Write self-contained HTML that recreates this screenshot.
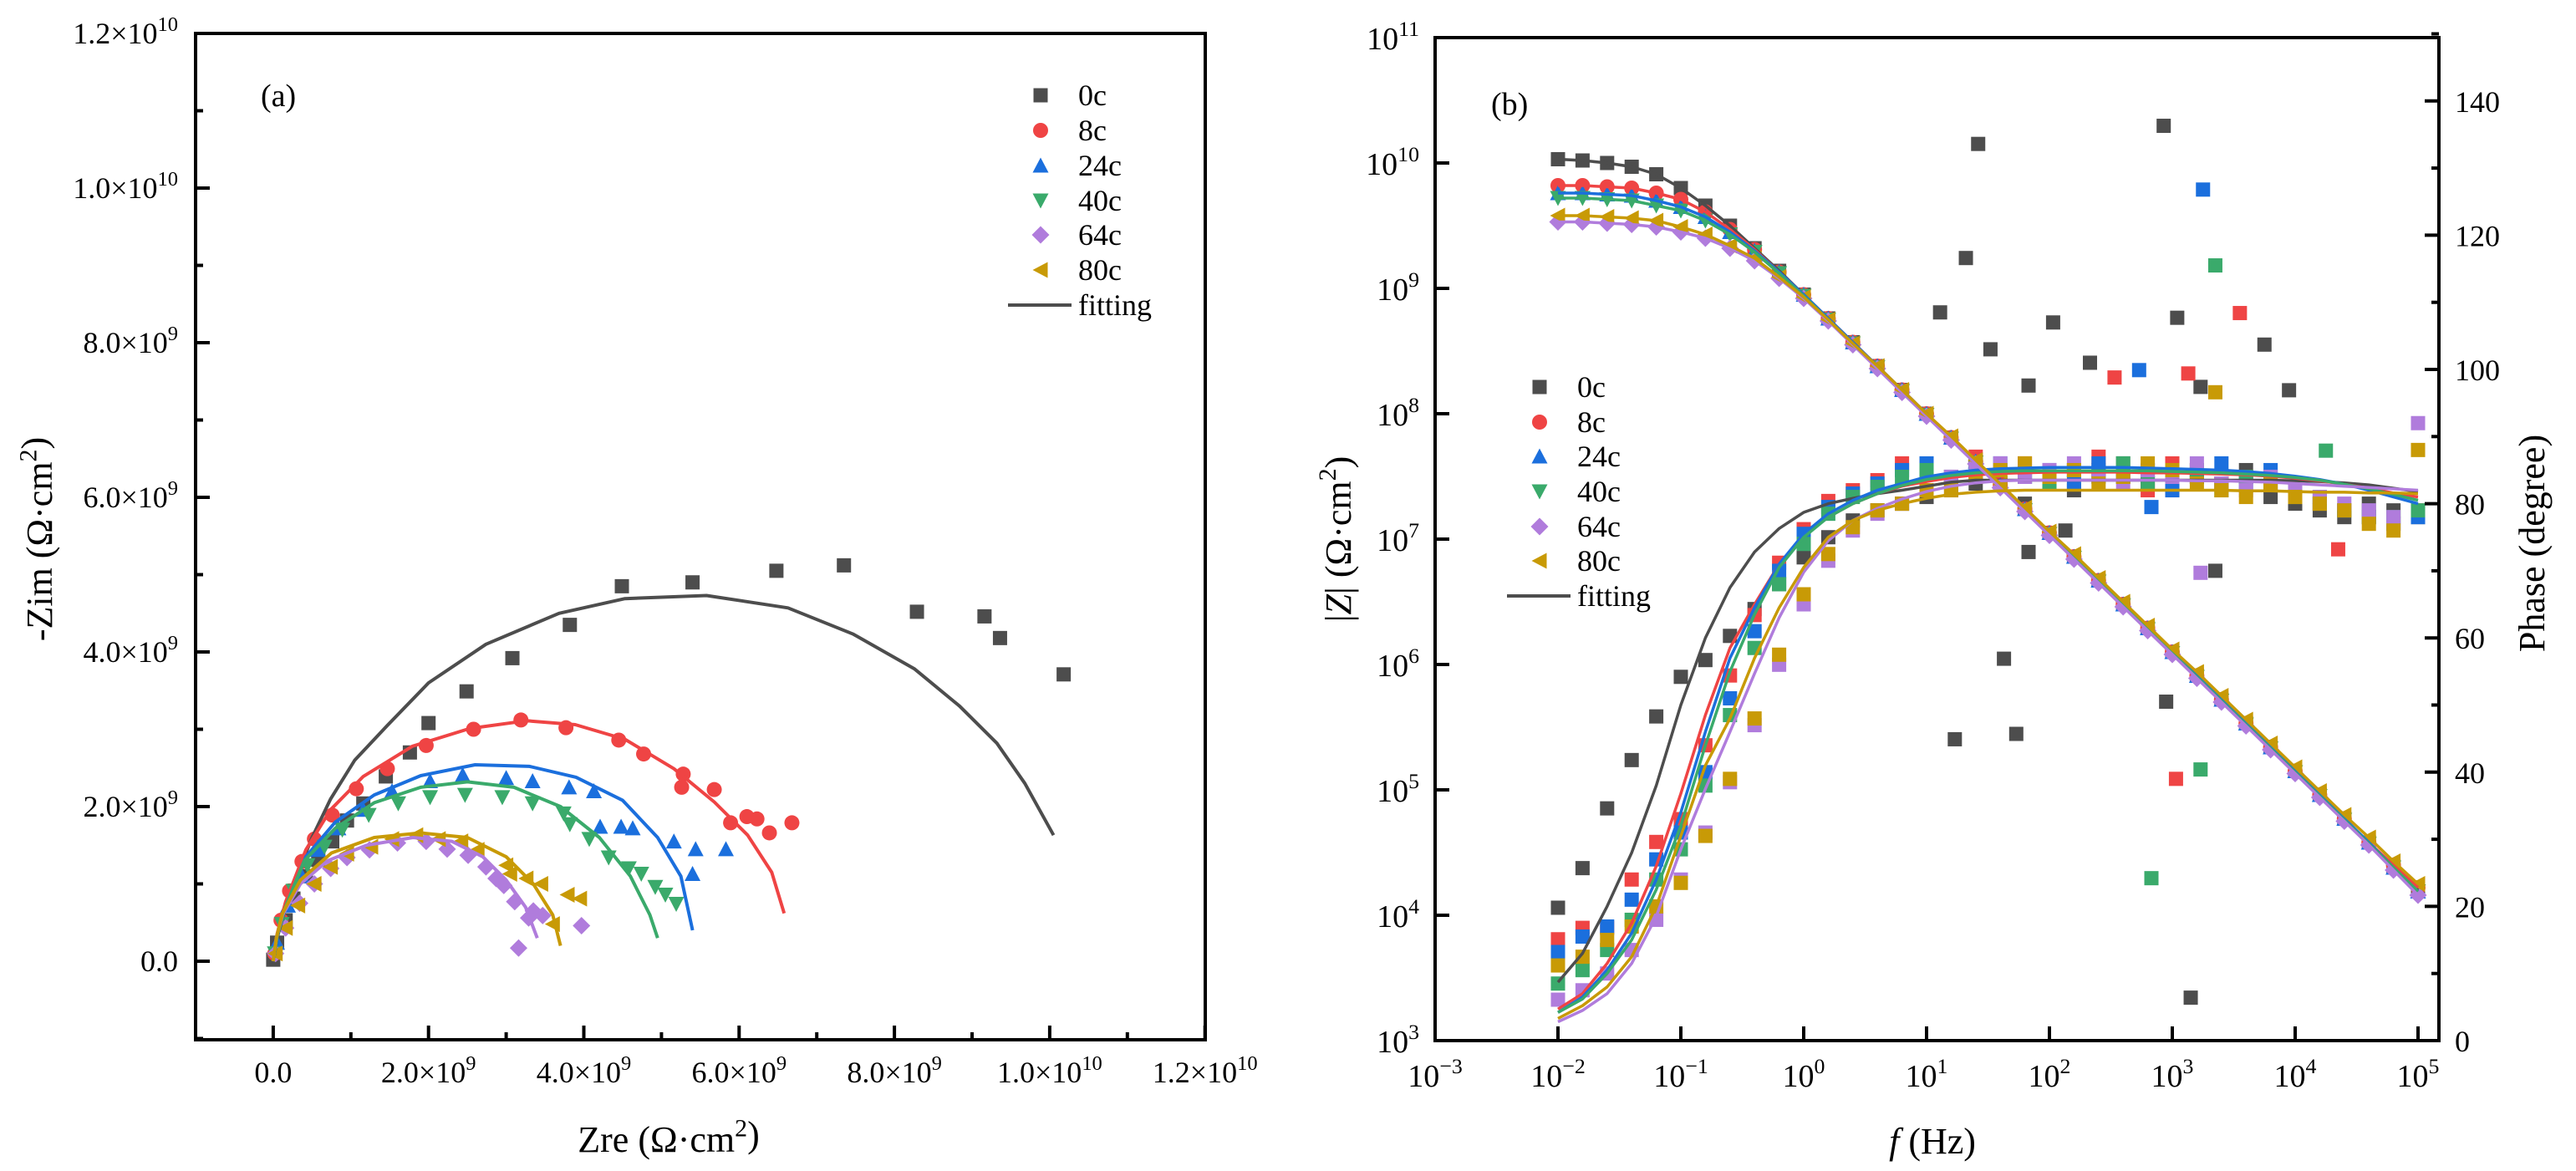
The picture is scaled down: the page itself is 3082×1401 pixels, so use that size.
<!DOCTYPE html>
<html><head><meta charset="utf-8"><style>
html,body{margin:0;padding:0;background:#fff;}
svg{display:block;font-family:"Liberation Serif",serif;}
text{font-family:"Liberation Serif",serif;}
</style></head><body>
<svg id="chart" xmlns="http://www.w3.org/2000/svg" width="3082" height="1401" viewBox="0 0 3082 1401" font-family="Liberation Serif, serif">
<defs>
<clipPath id="clipA"><rect x="234" y="40" width="1208" height="1204"/></clipPath>
<clipPath id="clipB"><rect x="1717" y="45" width="1201" height="1200"/></clipPath>
</defs>
</svg>
<script>
// ---------- Panel (a) Nyquist data (units of 1e9 Ω·cm²) ----------
const nyqSeries = ["0c","8c","24c","40c","64c","80c"];
const colors = ["#4d4d4d","#ef4444","#1b6fdd","#3aaa6b","#b07cdc","#c89a06"];
const zre0 = [4.49,5.4,6.48,7.35,8.29,9.16,9.36,10.18,3.82,3.08,2.49,2.0,1.76,1.45,1.16,0.95,0.76,0.58,0.42,0.26,0.16,0.05,0];
const zim0 = [4.85,4.9,5.05,5.12,4.52,4.46,4.18,3.71,4.35,3.92,3.49,3.08,2.7,2.39,2.04,1.82,1.55,1.31,1.1,0.81,0.53,0.24,0.02];
const zre8 = [6.68,6.39,6.23,6.1,5.89,5.68,5.26,5.28,4.77,4.45,3.77,3.19,2.58,1.97,1.47,1.07,0.76,0.53,0.37,0.21,0.1,0.02];
const zim8 = [1.79,1.66,1.84,1.87,1.79,2.22,2.25,2.42,2.68,2.86,3.02,3.12,3.0,2.79,2.49,2.23,1.89,1.58,1.29,0.91,0.53,0.1];
const zre24 = [5.83,5.44,5.4,5.16,4.63,4.48,4.21,4.13,3.81,3.34,3.0,2.44,2.02,1.53,1.16,0.84,0.58,0.37,0.19,0.05];
const zim24 = [1.45,1.45,1.13,1.55,1.72,1.74,1.74,2.2,2.25,2.33,2.37,2.41,2.33,2.2,1.96,1.72,1.44,1.1,0.72,0.24];
const zre40 = [5.19,5.05,4.92,4.74,4.58,4.32,4.07,3.82,3.74,3.34,2.95,2.47,2.02,1.61,1.23,0.89,0.66,0.44,0.26,0.11,0.02];
const zim40 = [0.74,0.86,0.96,1.13,1.2,1.34,1.58,1.77,1.91,2.04,2.12,2.15,2.12,2.04,1.89,1.7,1.48,1.24,0.91,0.48,0.1];
const zre64 = [3.16,3.97,3.47,3.35,3.29,3.11,2.97,2.87,2.74,2.51,2.24,1.97,1.6,1.24,0.95,0.74,0.53,0.34,0.16,0.03];
const zim64 = [0.17,0.46,0.59,0.65,0.56,0.77,0.98,1.07,1.22,1.37,1.45,1.55,1.53,1.44,1.34,1.2,1.0,0.75,0.43,0.1];
const zre80 = [3.95,3.79,3.6,3.45,3.26,3.05,3.0,2.63,2.42,2.13,1.84,1.53,1.26,0.95,0.74,0.53,0.32,0.16,0.03];
const zim80 = [0.81,0.86,0.48,1.0,1.07,1.13,1.24,1.44,1.55,1.58,1.63,1.58,1.48,1.39,1.22,1.0,0.72,0.43,0.1];
const fitRe0 = [0,0.05,0.16,0.3,0.5,0.74,1.05,1.47,2,2.74,3.68,4.53,5.58,6.63,7.47,8.26,8.84,9.32,9.68,10.05];
const fitIm0 = [0,0.3,0.7,1.1,1.6,2.1,2.6,3.05,3.6,4.1,4.5,4.69,4.73,4.57,4.23,3.78,3.3,2.82,2.3,1.63];
const fitRe8 = [0,0.05,0.16,0.42,0.74,1.16,1.79,2.53,3.26,3.89,4.53,5.16,5.68,6.11,6.42,6.58];
const fitIm8 = [0,0.35,0.77,1.44,1.96,2.39,2.78,3.01,3.11,3.06,2.87,2.49,2.06,1.63,1.15,0.62];
const fitRe24 = [0,0.05,0.16,0.42,0.8,1.3,1.9,2.6,3.3,3.9,4.5,4.95,5.25,5.4];
const fitIm24 = [0,0.33,0.7,1.35,1.8,2.15,2.4,2.54,2.52,2.38,2.08,1.6,1.1,0.4];
const fitRe40 = [0,0.05,0.15,0.4,0.8,1.3,1.9,2.5,3.1,3.7,4.2,4.6,4.85,4.95];
const fitIm40 = [0,0.32,0.68,1.3,1.72,2.05,2.25,2.32,2.25,2.0,1.6,1.1,0.6,0.3];
const fitRe64 = [0,0.04,0.12,0.35,0.7,1.2,1.8,2.3,2.7,3.0,3.25,3.4];
const fitIm64 = [0,0.3,0.6,1.0,1.3,1.5,1.6,1.55,1.35,1.05,0.7,0.3];
const fitRe80 = [0,0.04,0.12,0.35,0.75,1.3,1.9,2.5,3.0,3.35,3.6,3.7];
const fitIm80 = [0,0.3,0.62,1.05,1.4,1.6,1.66,1.6,1.35,1.0,0.6,0.2];
const nyqXTicks = [0,2,4,6,8,10,12];
const nyqYTicks = [0,2,4,6,8,10,12];
const nyqXTickLabels = ["0.0","2.0×10|9","4.0×10|9","6.0×10|9","8.0×10|9","1.0×10|10","1.2×10|10"];
const nyqYTickLabels = ["0.0","2.0×10|9","4.0×10|9","6.0×10|9","8.0×10|9","1.0×10|10","1.2×10|10"];

// ---------- Panel (b) Bode data ----------
const logF = [-2,-1.8,-1.6,-1.4,-1.2,-1,-0.8,-0.6,-0.4,-0.2,0,0.2,0.4,0.6,0.8,1,1.2,1.4,1.6,1.8,2,2.2,2.4,2.6,2.8,3,3.2,3.4,3.6,3.8,4,4.2,4.4,4.6,4.8,5];
const logZ0 = [10.03,10.02,10.0,9.97,9.91,9.8,9.66,9.5,9.32,9.14,8.95,8.76,8.57,8.38,8.19,8.0,7.81,7.62,7.43,7.24,7.05,6.86,6.67,6.48,6.29,6.1,5.91,5.72,5.53,5.34,5.15,4.96,4.77,4.58,4.39,4.2];
const logZ8 = [9.82,9.82,9.81,9.8,9.76,9.71,9.61,9.47,9.31,9.13,8.95,8.76,8.57,8.38,8.19,8.0,7.81,7.62,7.43,7.24,7.05,6.86,6.67,6.48,6.29,6.1,5.91,5.72,5.53,5.34,5.15,4.96,4.77,4.58,4.4,4.22];
const logZ24 = [9.76,9.76,9.75,9.74,9.7,9.65,9.57,9.45,9.3,9.13,8.95,8.76,8.57,8.38,8.19,8.0,7.81,7.62,7.43,7.24,7.05,6.86,6.67,6.48,6.29,6.1,5.91,5.72,5.53,5.34,5.15,4.96,4.77,4.58,4.38,4.19];
const logZ40 = [9.72,9.72,9.71,9.7,9.66,9.62,9.54,9.43,9.29,9.12,8.94,8.75,8.56,8.37,8.18,7.99,7.8,7.61,7.42,7.23,7.04,6.85,6.66,6.47,6.28,6.09,5.9,5.71,5.52,5.33,5.14,4.95,4.76,4.57,4.38,4.19];
const logZ64 = [9.53,9.53,9.52,9.51,9.49,9.45,9.4,9.32,9.22,9.08,8.92,8.74,8.55,8.36,8.17,7.98,7.79,7.6,7.41,7.22,7.03,6.84,6.65,6.46,6.27,6.08,5.89,5.7,5.51,5.32,5.13,4.94,4.75,4.56,4.36,4.16];
const logZ80 = [9.58,9.58,9.57,9.56,9.54,9.49,9.43,9.34,9.24,9.09,8.93,8.75,8.56,8.38,8.19,8.0,7.82,7.63,7.44,7.25,7.06,6.88,6.69,6.5,6.31,6.12,5.94,5.75,5.56,5.37,5.18,4.99,4.8,4.62,4.43,4.25];
const ph0 = [19.8,25.7,34.6,41.8,48.3,54.2,56.7,60.3,64.3,68,72,75,77.5,79,80,81,82,83,83,80,84,82,85,86,83,82,84,83,85,81,80,79,78,80,79,78];
const ph8 = [15.1,16.8,16.8,24,29.6,33,44,54.4,63.4,71.2,76.2,80.4,82,83.5,86,85,84,87,83,86,84,85,87,84,82,86,85,83,84,83,82,80,79,78,77,79];
const ph24 = [13.2,15.5,17,21,27,31,40,51,61,70,75.5,79.5,81.5,83,85,86,84,85,86,84,85,83,86,84,85,82,84,86,83,85,82,81,79,78,77,78];
const ph40 = [8.5,10.5,13.5,18,24,28.5,38,48.5,58.5,68,74,78.5,81,82.5,84,85,84,86,85,84,83,85,84,86,83,84,85,82,84,83,81,80,79,78,78,79];
const ph64 = [6.1,7.5,10,13.5,18,24,31,38.5,47,56,65,71.5,76,78.5,80,82,84,85,86,84,85,86,84,83,85,84,86,83,82,84,82,81,80,79,78,92];
const ph80 = [11.2,12.5,15,17,20,23.5,30.5,39,48,57.5,66.5,72.5,76.5,79,80,82,82,84,85,86,84,85,83,84,86,85,83,82,81,83,81,80,79,77,76,88];
const phFit0 = [8.7,13,20,28,38,50,60,67.5,72.8,76.3,78.7,80,80.8,81.5,82,82.6,83.2,83.5,83.5,83.5,83.5,83.5,83.5,83.5,83.5,83.5,83.5,83.5,83.5,83.5,83.4,83.3,83.1,82.8,82.3,81.8];
const phFit8 = [4.7,7,11.5,17.5,26,36.8,48.5,58.5,65,71,75.3,78,80,81.5,82.6,83.3,83.9,84.3,84.5,84.6,84.7,84.7,84.7,84.7,84.6,84.6,84.5,84.4,84.3,84.1,83.8,83.4,82.9,82.3,81.6,81];
const phFit24 = [4.2,6.5,10.5,16,24,34,46,57,64.5,71,75.5,78.5,80.5,82,83,84,84.6,85,85.2,85.3,85.4,85.4,85.4,85.4,85.3,85.2,85.1,85,84.8,84.5,84.1,83.6,82.9,82,81,80];
const phFit40 = [4.2,6.2,10,15,22.5,32,44,55,63.5,70.5,75,78,80,81.5,82.7,83.6,84.2,84.6,84.8,84.9,84.9,84.9,84.9,84.9,84.9,84.8,84.7,84.6,84.4,84.2,83.9,83.5,82.9,82.2,81.4,80.5];
const phFit64 = [2.8,4.5,7,11.5,18.5,28.5,37.5,46,54.7,63,69.8,74.5,77.5,79.3,80.7,81.8,82.6,83.1,83.4,83.5,83.5,83.5,83.5,83.5,83.5,83.5,83.4,83.4,83.3,83.2,83,82.8,82.6,82.4,82.2,82];
const phFit80 = [3.3,5.2,8,12.5,20,30.5,41,48,57,64.5,70.5,75,77.5,79,80,80.8,81.4,81.7,81.9,82,82,82,82,82,82,82,82,82,81.9,81.9,81.8,81.7,81.7,81.6,81.6,81.5];
const outLogF = [1.11,1.42,1.32,1.52,1.83,2.03,2.33,2.93,3.04,3.23,3.75,3.95,1.23,1.73,1.63,3.15,3.35,2.95,1.83,2.13,3.25,3.35,3.55,2.73,2.53,3.13,2.83,3.03,3.23,2.83,3.35,3.23,4.35,4.25];
const outPh = [108.5,133.6,116.6,103,97.6,107,101,136.3,107.7,97.4,103.7,96.9,44.9,45.7,56.9,6.4,70,50.5,72.8,76,126.8,115.5,108.4,99.9,98.8,99.4,24.2,39,40.4,79.5,96.6,69.7,73.2,87.9];
const outSer = [0,0,0,0,0,0,0,0,0,0,0,0,0,0,0,0,0,0,0,0,2,3,1,2,1,1,3,1,3,2,5,4,1,3];
const bodeXTicks = [-3,-2,-1,0,1,2,3,4,5];
const zTicks = [3,4,5,6,7,8,9,10,11];
const phTicks = [0,20,40,60,80,100,120,140];

// ---------- scales ----------
const xa = v => 234 + (v + 1) * 92.9;
const ya = v => 1150 - v * 92.5;
const xb = lf => 1717 + (lf + 3) * 147;
const yz = lz => 1245 - (lz - 3) * 150;
const yp = d => 1245 - d * 8.03;

const NS = "http://www.w3.org/2000/svg";
const FONT = "Liberation Serif, serif";
const svg = document.getElementById('chart');
function mk(tag, attrs, parent) {
  const e = document.createElementNS(NS, tag);
  for (const k in attrs) e.setAttribute(k, attrs[k]);
  (parent || svg).appendChild(e);
  return e;
}
function label(txt, x, y, anchor, size, name, parent) {
  const parts = txt.split('^');
  const t = mk('text', {x: x, y: y, 'text-anchor': anchor, 'font-size': size, 'font-family': FONT, fill: '#000'}, parent);
  
  
  t.appendChild(document.createTextNode(parts[0]));
  if (parts[1]) {
    const s = mk('tspan', {dy: -size * 0.42, 'font-size': size * 0.68}, t);
    s.textContent = parts[1];
  }
  return t;
}
function closeParen(t, size) {
  const s = mk('tspan', {dy: size * 0.42}, t);
  s.textContent = ')';
}
function marker(kind, x, y, color, parent, name) {
  let e; const s = 8.5;
  if (kind === 0) e = mk('rect', {x: x - s, y: y - s, width: 2 * s, height: 2 * s, fill: color}, parent);
  else if (kind === 1) e = mk('circle', {cx: x, cy: y, r: s + 0.5, fill: color}, parent);
  else if (kind === 2) e = mk('polygon', {points: `${x},${y - s - 1} ${x + s + 1},${y + s} ${x - s - 1},${y + s}`, fill: color}, parent);
  else if (kind === 3) e = mk('polygon', {points: `${x - s - 1},${y - s} ${x + s + 1},${y - s} ${x},${y + s + 1}`, fill: color}, parent);
  else if (kind === 4) e = mk('polygon', {points: `${x},${y - s - 2} ${x + s + 2},${y} ${x},${y + s + 2} ${x - s - 2},${y}`, fill: color}, parent);
  else e = mk('polygon', {points: `${x - s - 1},${y} ${x + s},${y - s - 1} ${x + s},${y + s + 1}`, fill: color}, parent);
  
  
  return e;
}
function line(xs, ys, fx, fy, color, parent, name, w) {
  const d = xs.map((v, i) => (i ? 'L' : 'M') + fx(v).toFixed(1) + ',' + fy(ys[i]).toFixed(1)).join(' ');
  const p = mk('path', {d: d, fill: 'none', stroke: color, 'stroke-width': w || 4, 'stroke-linejoin': 'round'}, parent);
  
  
}

// ================= Panel (a) =================
const gA = mk('g', {});


const plotA = mk('g', {'clip-path': 'url(#clipA)'}, gA);


const nyqRe = [zre0, zre8, zre24, zre40, zre64, zre80];
const nyqIm = [zim0, zim8, zim24, zim40, zim64, zim80];
const fRe = [fitRe0, fitRe8, fitRe24, fitRe40, fitRe64, fitRe80];
const fIm = [fitIm0, fitIm8, fitIm24, fitIm40, fitIm64, fitIm80];
for (let s = 0; s < 6; s++) {
  nyqRe[s].forEach((v, i) => marker(s, xa(v), ya(nyqIm[s][i]), colors[s], plotA, 'nyquist-point-' + nyqSeries[s]));
}
for (let s = 0; s < 6; s++) line(fRe[s], fIm[s], xa, ya, colors[s], plotA, 'nyquist-fit-' + nyqSeries[s], 4);
const axA = mk('rect', {x: 234, y: 40, width: 1208, height: 1204, fill: 'none', stroke: '#000', 'stroke-width': 4}, gA);


nyqXTicks.forEach((v, i) => {
  const t = mk('line', {x1: xa(v), x2: xa(v), y1: 1244, y2: 1227, stroke: '#000', 'stroke-width': 4}, gA);
  
  
  label(nyqXTickLabels[i].replace('|', '^'), xa(v), 1295, 'middle', 36, 'x-tick-label', gA);
  const m = mk('line', {x1: xa(v - 1), x2: xa(v - 1), y1: 1244, y2: 1235, stroke: '#000', 'stroke-width': 4}, gA);
  
  
});
nyqYTicks.forEach((v, i) => {
  const t = mk('line', {x1: 234, x2: 251, y1: ya(v), y2: ya(v), stroke: '#000', 'stroke-width': 4}, gA);
  
  
  label(nyqYTickLabels[i].replace('|', '^'), 213, ya(v) + 12, 'end', 36, 'y-tick-label', gA);
  const m = mk('line', {x1: 234, x2: 243, y1: ya(v - 1), y2: ya(v - 1), stroke: '#000', 'stroke-width': 4}, gA);
  
  
});
label('(a)', 312, 127, 'start', 38, 'panel-label-a', gA);
closeParen(label('Zre (Ω·cm^2', 800, 1378, 'middle', 44, 'x-axis-title', gA), 44 * 0.68);
(function(){
  const t = label('-Zim (Ω·cm^2', 0, 0, 'middle', 44, 'y-axis-title', gA);
  closeParen(t, 44 * 0.68);
  t.setAttribute('transform', 'translate(62,645) rotate(-90)');
})();
const legA = mk('g', {}, gA);


const legRowsA = [114, 156, 198, 240, 281, 323];
nyqSeries.forEach((n, s) => {
  marker(s, 1245, legRowsA[s], colors[s], legA, 'legend-marker-' + n);
  label(n, 1290, legRowsA[s] + 12, 'start', 36, 'legend-entry-' + n, legA);
});
(function(){
  const l = mk('line', {x1: 1206, x2: 1282, y1: 365, y2: 365, stroke: '#4d4d4d', 'stroke-width': 4}, legA);
  
  
  label('fitting', 1290, 377, 'start', 36, 'legend-entry-fitting', legA);
})();

// ================= Panel (b) =================
const gB = mk('g', {});


const plotB = mk('g', {'clip-path': 'url(#clipB)'}, gB);


const zArr = [logZ0, logZ8, logZ24, logZ40, logZ64, logZ80];
const pArr = [ph0, ph8, ph24, ph40, ph64, ph80];
const pFit = [phFit0, phFit8, phFit24, phFit40, phFit64, phFit80];
outLogF.forEach((v, i) => marker(0, xb(v), yp(outPh[i]), colors[outSer[i]], plotB, 'phase-outlier-point'));
for (let s = 0; s < 6; s++) {
  logF.forEach((v, i) => marker(0, xb(v), yp(pArr[s][i]), colors[s], plotB, 'phase-point-' + nyqSeries[s]));
  logF.forEach((v, i) => marker(s, xb(v), yz(zArr[s][i]), colors[s], plotB, 'modulus-point-' + nyqSeries[s]));
}
for (let s = 0; s < 6; s++) {
  line(logF, zArr[s], xb, yz, colors[s], plotB, 'modulus-fit-' + nyqSeries[s], 3.5);
  line(logF, pFit[s], xb, yp, colors[s], plotB, 'phase-fit-' + nyqSeries[s], 3.5);
}
const axB = mk('rect', {x: 1717, y: 45, width: 1201, height: 1200, fill: 'none', stroke: '#000', 'stroke-width': 4}, gB);


bodeXTicks.forEach(v => {
  const t = mk('line', {x1: xb(v), x2: xb(v), y1: 1245, y2: 1228, stroke: '#000', 'stroke-width': 4}, gB);
  
  
  label('10^' + String(v).replace('-', '−'), xb(v), 1300, 'middle', 38, 'freq-tick-label', gB);
});
zTicks.forEach(v => {
  const t = mk('line', {x1: 1717, x2: 1734, y1: yz(v), y2: yz(v), stroke: '#000', 'stroke-width': 4}, gB);
  
  
  label('10^' + v, 1698, yz(v) + 14, 'end', 38, 'modulus-tick-label', gB);
});
phTicks.forEach(v => {
  const t = mk('line', {x1: 2918, x2: 2901, y1: yp(v), y2: yp(v), stroke: '#000', 'stroke-width': 4}, gB);
  
  
  label(String(v), 2937, yp(v) + 13, 'start', 36, 'phase-tick-label', gB);
  const m = mk('line', {x1: 2918, x2: 2909, y1: yp(v + 10), y2: yp(v + 10), stroke: '#000', 'stroke-width': 4}, gB);
  
  
});
label('(b)', 1784, 137, 'start', 38, 'panel-label-b', gB);
(function(){
  const t = mk('text', {x: 2312, y: 1380, 'text-anchor': 'middle', 'font-size': 44, 'font-family': FONT}, gB);
  
  
  const i = mk('tspan', {'font-style': 'italic'}, t); i.textContent = 'f';
  t.appendChild(document.createTextNode(' (Hz)'));
  const l = mk('text', {x: 0, y: 0, 'text-anchor': 'middle', 'font-size': 44, 'font-family': FONT}, gB);
  
  
  l.appendChild(document.createTextNode('|'));
  const zi = mk('tspan', {'font-style': 'italic'}, l); zi.textContent = 'Z';
  l.appendChild(document.createTextNode('| (Ω·cm'));
  const sup = mk('tspan', {dy: -18, 'font-size': 30}, l); sup.textContent = '2';
  const cp = mk('tspan', {dy: 18}, l); cp.textContent = ')';
  l.setAttribute('transform', 'translate(1616,645) rotate(-90)');
  const r = label('Phase (degree)', 0, 0, 'middle', 44, 'phase-axis-title', gB);
  r.setAttribute('transform', 'translate(3044,650) rotate(-90)');
})();
const legB = mk('g', {}, gB);


const legRowsB = [463, 505, 546, 588, 630, 671];
nyqSeries.forEach((n, s) => {
  marker(s, 1842, legRowsB[s], colors[s], legB, 'legend-marker-' + n);
  label(n, 1887, legRowsB[s] + 12, 'start', 36, 'legend-entry-' + n, legB);
});
(function(){
  const l = mk('line', {x1: 1803, x2: 1879, y1: 713, y2: 713, stroke: '#4d4d4d', 'stroke-width': 4}, legB);
  
  
  label('fitting', 1887, 725, 'start', 36, 'legend-entry-fitting', legB);
})();
</script>
</body></html>
